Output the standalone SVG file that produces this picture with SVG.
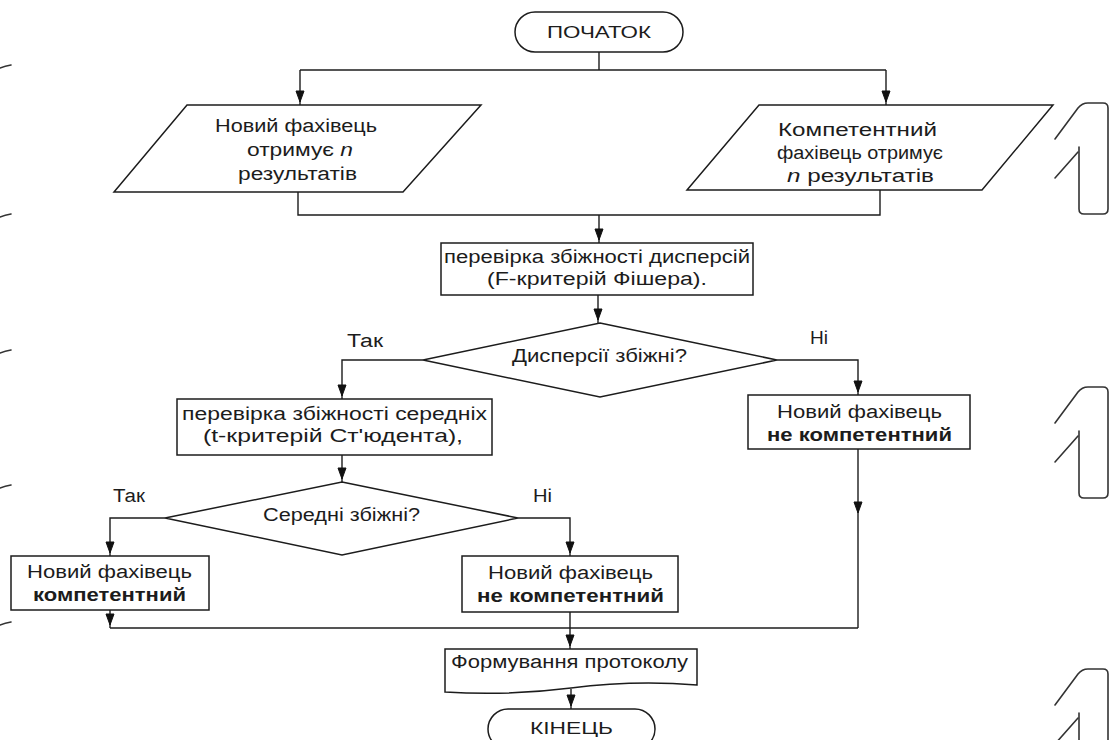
<svg xmlns="http://www.w3.org/2000/svg" width="1110" height="740" viewBox="0 0 1110 740">
<style>
.shape{fill:#fff;stroke:#1c1c1c;stroke-width:1.5}
.line{fill:none;stroke:#1c1c1c;stroke-width:1.4}
.ah{fill:#111;stroke:#111;stroke-width:1}
.t{font-family:"Liberation Sans",Arial,sans-serif;font-size:18px;fill:#1c1c1c}
.term{font-size:16px}
.b{font-weight:bold}
.mark{fill:none;stroke:#333;stroke-width:1.6;stroke-linecap:round;stroke-linejoin:round}
</style>
<defs>
<g id="bracket">
<path class="mark" d="M1055,35 L1078,4 Q1082,-1 1088,-1 L1103,-1 Q1108,-1 1108,4 L1108,105 Q1108,110 1103,110 L1084,110 Q1079,110 1079,105 L1079,43"/>
<path class="mark" d="M1078,48 L1055,74"/>
</g>
</defs>
<rect width="1110" height="740" fill="#fff"/>

<g id="scan-marks">
<use href="#bracket" y="104"/>
<use href="#bracket" y="388"/>
<use href="#bracket" y="670"/>
<path class="mark" d="M0,68 Q5,66 11,65"/>
<path class="mark" d="M0,217 Q5,215 11,214"/>
<path class="mark" d="M0,353 Q5,351 11,350"/>
<path class="mark" d="M0,488 Q5,486 11,485"/>
<path class="mark" d="M0,625 Q5,623 11,622"/>
</g>

<g id="connectors">
<path class="line" d="M599,52 V70"/>
<path class="line" d="M300,70 H886"/>
<path class="line" d="M300,70 V105"/>
<path class="line" d="M886,70 V105"/>
<path class="line" d="M298,192 V215 H599"/>
<path class="line" d="M880,190 V215 H599"/>
<path class="line" d="M599,215 V243"/>
<path class="line" d="M598,295 V323"/>
<path class="line" d="M423,360 H342 V399"/>
<path class="line" d="M777,360 H858 V395"/>
<path class="line" d="M342,455 V482"/>
<path class="line" d="M165,518 H110 V556"/>
<path class="line" d="M518,518 H570 V556"/>
<path class="line" d="M110,610 V628"/>
<path class="line" d="M858,449 V628"/>
<path class="line" d="M110,628 H858"/>
<path class="line" d="M570,612 V649"/>
<path class="line" d="M571,689 V709"/>
<path class="ah" d="M296,91 L304,91 L300,102 Z"/>
<path class="ah" d="M882,91 L890,91 L886,102 Z"/>
<path class="ah" d="M595,229 L603,229 L599,240 Z"/>
<path class="ah" d="M594,309 L602,309 L598,320 Z"/>
<path class="ah" d="M338,385 L346,385 L342,396 Z"/>
<path class="ah" d="M854,381 L862,381 L858,392 Z"/>
<path class="ah" d="M338,468 L346,468 L342,479 Z"/>
<path class="ah" d="M106,542 L114,542 L110,553 Z"/>
<path class="ah" d="M566,542 L574,542 L570,553 Z"/>
<path class="ah" d="M106,614 L114,614 L110,625 Z"/>
<path class="ah" d="M854,502 L862,502 L858,513 Z"/>
<path class="ah" d="M566,635 L574,635 L570,646 Z"/>
<path class="ah" d="M567,695 L575,695 L571,706 Z"/>
</g>

<g id="start">
<rect class="shape" x="515" y="12" width="168" height="40" rx="20" ry="20"/>
<text class="t term" x="547" y="38" textLength="104" lengthAdjust="spacingAndGlyphs">ПОЧАТОК</text>
</g>

<g id="input-new">
<polygon class="shape" points="187,105 481,105 403,192 114,192"/>
<text class="t" x="215" y="132" textLength="162" lengthAdjust="spacingAndGlyphs">Новий фахівець</text>
<text class="t" x="247" y="156" textLength="106" lengthAdjust="spacingAndGlyphs">отримує <tspan font-style="italic">n</tspan></text>
<text class="t" x="238" y="180" textLength="119" lengthAdjust="spacingAndGlyphs">результатів</text>
</g>

<g id="input-competent">
<polygon class="shape" points="759,105 1053,105 982,190 687,190"/>
<text class="t" x="778" y="136" textLength="159" lengthAdjust="spacingAndGlyphs">Компетентний</text>
<text class="t" x="777" y="159" textLength="166" lengthAdjust="spacingAndGlyphs">фахівець отримує</text>
<text class="t" x="787" y="182" textLength="147" lengthAdjust="spacingAndGlyphs"><tspan font-style="italic">n</tspan> результатів</text>
</g>

<g id="check-variance">
<rect class="shape" x="441" y="243" width="312" height="52"/>
<text class="t" x="444" y="263" textLength="306" lengthAdjust="spacingAndGlyphs">перевірка збіжності дисперсій</text>
<text class="t" x="487" y="285" textLength="220" lengthAdjust="spacingAndGlyphs">(F-критерій Фішера).</text>
</g>

<g id="decision-variance">
<polygon class="shape" points="600,323 777,360 600,397 423,360"/>
<text class="t" x="512" y="362" textLength="175" lengthAdjust="spacingAndGlyphs">Дисперсії збіжні?</text>
<text class="t" x="347" y="347" textLength="36" lengthAdjust="spacingAndGlyphs">Так</text>
<text class="t" x="810" y="344" textLength="18" lengthAdjust="spacingAndGlyphs">Ні</text>
</g>

<g id="check-means">
<rect class="shape" x="177" y="399" width="315" height="56"/>
<text class="t" x="182" y="420" textLength="305" lengthAdjust="spacingAndGlyphs">перевірка збіжності середніх</text>
<text class="t" x="203" y="442" textLength="260" lengthAdjust="spacingAndGlyphs">(t-критерій Ст'юдента),</text>
</g>

<g id="not-competent-1">
<rect class="shape" x="748" y="395" width="222" height="54"/>
<text class="t" x="777" y="418" textLength="165" lengthAdjust="spacingAndGlyphs">Новий фахівець</text>
<text class="t b" x="767" y="441" textLength="185" lengthAdjust="spacingAndGlyphs">не компетентний</text>
</g>

<g id="decision-means">
<polygon class="shape" points="342,482 518,518 342,555 165,518"/>
<text class="t" x="263" y="521" textLength="157" lengthAdjust="spacingAndGlyphs">Середні збіжні?</text>
<text class="t" x="113" y="502" textLength="32" lengthAdjust="spacingAndGlyphs">Так</text>
<text class="t" x="533" y="502" textLength="19" lengthAdjust="spacingAndGlyphs">Ні</text>
</g>

<g id="competent">
<rect class="shape" x="11" y="556" width="198" height="54"/>
<text class="t" x="27" y="578" textLength="165" lengthAdjust="spacingAndGlyphs">Новий фахівець</text>
<text class="t b" x="33" y="601" textLength="153" lengthAdjust="spacingAndGlyphs">компетентний</text>
</g>

<g id="not-competent-2">
<rect class="shape" x="462" y="556" width="216" height="56"/>
<text class="t" x="488" y="579" textLength="165" lengthAdjust="spacingAndGlyphs">Новий фахівець</text>
<text class="t b" x="477" y="602" textLength="187" lengthAdjust="spacingAndGlyphs">не компетентний</text>
</g>

<g id="protocol">
<path class="shape" d="M445,649 H697 V685 Q634,680 571,688 Q508,696 445,692 Z"/>
<text class="t" x="451" y="668" textLength="237" lengthAdjust="spacingAndGlyphs">Формування протоколу</text>
</g>

<g id="end">
<rect class="shape" x="488" y="709" width="167" height="40" rx="20" ry="20"/>
<text class="t term" x="530" y="734" textLength="83" lengthAdjust="spacingAndGlyphs">КІНЕЦЬ</text>
</g>
</svg>
